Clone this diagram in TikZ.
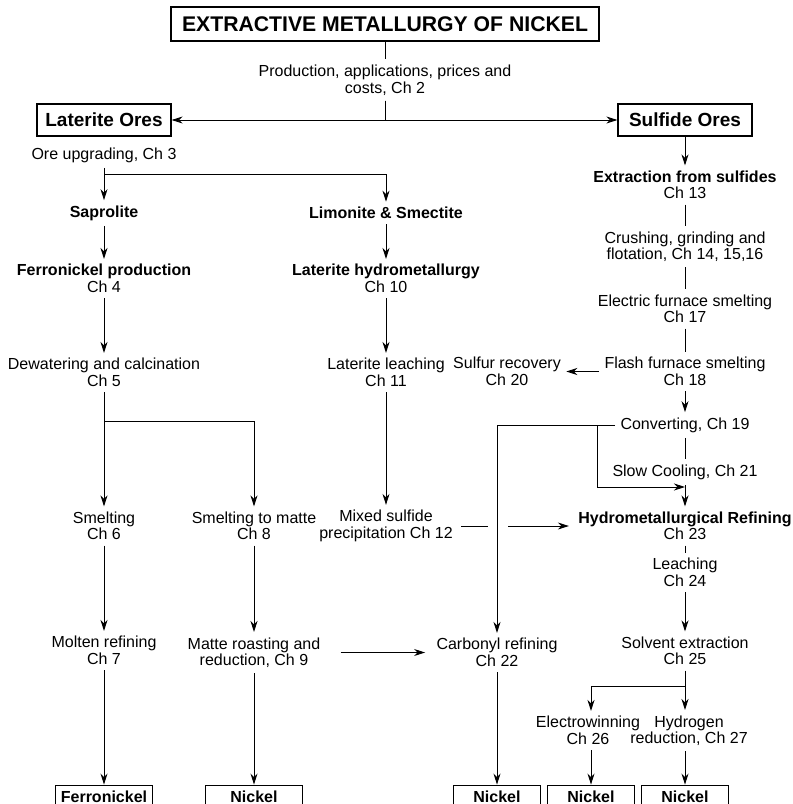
\documentclass[tikz,border=0pt]{standalone}
\usepackage{fontspec}
\setmainfont{Liberation Sans}
\usepackage{tikz}
\usetikzlibrary{arrows.meta}

\begin{document}
\begin{tikzpicture}[x=1pt,y=-1pt,line width=0.9pt,
        lbl/.style={inner sep=5pt, align=center, font=\fontsize{16}{16.5}\selectfont},
        topbox/.style={draw, line width=1.2pt, inner sep=0pt, minimum width=428pt, minimum height=34pt, font=\fontsize{21.2}{24}\selectfont\bfseries},
        orebox/.style={draw, line width=1.2pt, inner sep=0pt, minimum width=134pt, minimum height=32pt, font=\fontsize{19}{22}\selectfont\bfseries},
        endbox/.style={draw, inner sep=0pt, minimum height=23pt, font=\fontsize{16}{18}\selectfont\bfseries},
        arr/.style={-{Stealth[length=11pt,width=7pt,inset=3.5pt]}}]
        \useasboundingbox (0,0) rectangle (793,804);
        \clip (0,0) rectangle (793,804);

        \node[topbox] (title) at (385,24) {EXTRACTIVE METALLURGY OF NICKEL};
        \node[lbl] (prod) at (385,80) {Production, applications, prices and\\costs, Ch 2};
        \node[orebox] (lat) at (104,120) {Laterite Ores};
        \node[orebox] (sulf) at (685,120) {Sulfide Ores};

        % laterite side
        \node[lbl] (upg) at (104,155) {Ore upgrading, Ch 3};
        \node[lbl] (sap) at (104,213) {\textbf{Saprolite}};
        \node[lbl] (limo) at (386,213) {\textbf{Limonite \& Smectite}};
        \node[lbl] (ferro) at (104,278.5) {\textbf{Ferronickel production}\\Ch 4};
        \node[lbl] (lhyd) at (386,278.5) {\textbf{Laterite hydrometallurgy}\\Ch 10};
        \node[lbl] (dewat) at (104,372.5) {Dewatering and calcination\\Ch 5};
        \node[lbl] (lleach) at (386,372.5) {Laterite leaching\\Ch 11};
        \node[lbl] (smelt) at (104,526) {Smelting\\Ch 6};
        \node[lbl] (matte) at (254,526) {Smelting to matte\\Ch 8};
        \node[lbl] (mixed) at (386,526) {Mixed sulfide\\precipitation Ch 12};
        \node[lbl] (molten) at (104,650.5) {Molten refining\\Ch 7};
        \node[lbl] (roast) at (254,652.5) {Matte roasting and\\reduction, Ch 9};

        % sulfide side
        \node[lbl] (extr) at (685,185) {\textbf{Extraction from sulfides}\\Ch 13};
        \node[lbl] (crush) at (685,246.5) {Crushing, grinding and\\flotation, Ch 14, 15,16};
        \node[lbl] (elec) at (685,309) {Electric furnace smelting\\Ch 17};
        \node[lbl] (flash) at (685,371.5) {Flash furnace smelting\\Ch 18};
        \node[lbl] (sulrec) at (507,371.5) {Sulfur recovery\\Ch 20};
        \node[lbl] (conv) at (685,425) {Converting, Ch 19};
        \node[lbl] (slow) at (685,472) {Slow Cooling, Ch 21};
        \node[lbl] (hydro) at (685,526) {\textbf{Hydrometallurgical Refining}\\Ch 23};
        \node[lbl] (leach) at (685,572.5) {Leaching\\Ch 24};
        \node[lbl] (carb) at (497,652.5) {Carbonyl refining\\Ch 22};
        \node[lbl] (solv) at (685,651) {Solvent extraction\\Ch 25};
        \node[lbl] (ewin) at (588,730.5) {Electrowinning\\Ch 26};
        \node[lbl] (hred) at (689,730.5) {Hydrogen\\reduction, Ch 27};

        % products
        \node[endbox, minimum width=97pt] (fn) at (104,796.5) {Ferronickel};
        \node[endbox, minimum width=97pt] (ni1) at (254,796.5) {Nickel};
        \node[endbox, minimum width=87pt] (ni2) at (497,796.5) {Nickel};
        \node[endbox, minimum width=87pt] (ni3) at (591,796.5) {Nickel};
        \node[endbox, minimum width=87pt] (ni4) at (685,796.5) {Nickel};

        \coordinate (jup) at (104,174);
        \coordinate (jdw) at (104,421);
        \coordinate (jcv) at (597,425);
        \coordinate (jsc) at (685,487);
        \coordinate (jsv) at (685,686);
        \coordinate (hopl) at (488,526);
        \coordinate (hopr) at (508,526);

        \draw (title) -- (prod);
        \draw[arr] (prod.south) |- (lat.east);
        \draw[arr] (prod.south) |- (sulf.west);

        \draw (upg) edge[arr] (sap);
        \draw[arr] (jup) -| (limo);
        \draw (sap) edge[arr] (ferro);
        \draw (ferro) edge[arr] (dewat);
        \draw (dewat) edge[arr] (smelt);
        \draw[arr] (jdw) -| (matte);
        \draw (smelt) edge[arr] (molten);
        \draw (molten) edge[arr] (fn);
        \draw (matte) edge[arr] (roast);
        \draw (roast) edge[arr] (ni1);
        \draw (limo) edge[arr] (lhyd);
        \draw (lhyd) edge[arr] (lleach);
        \draw (lleach) edge[arr] (mixed);
        \draw[shorten <=3pt] (mixed.east) -- (hopl);
        \draw[arr, shorten >=4pt] (hopr) -- (hydro.west);
        \draw[arr, shorten <=15pt, shorten >=6pt] (roast) -- (carb);

        \draw (sulf) edge[arr] (extr);
        \draw (extr) -- (crush);
        \draw (crush) -- (elec);
        \draw (elec) -- (flash);
        \draw (flash) edge[arr] (sulrec);
        \draw (flash) edge[arr] (conv);
        \draw[arr] (conv) -| (carb);
        \draw (conv) -- (slow);
        \draw[arr] (jcv) |- (jsc);
        \draw (slow) edge[arr] (hydro);
        \draw (hydro) -- (leach);
        \draw (leach) edge[arr] (solv);
        \draw[arr] (solv) -- (solv |- hred.north);
        \draw[arr] (jsv) -| (ewin.north -| ni3);
        \draw (carb) edge[arr] (ni2);
        \draw[arr] (ewin.south -| ni3) -- (ni3);
        \draw[arr] (hred.south -| ni4) -- (ni4);
    \end{tikzpicture}
\end{document}
